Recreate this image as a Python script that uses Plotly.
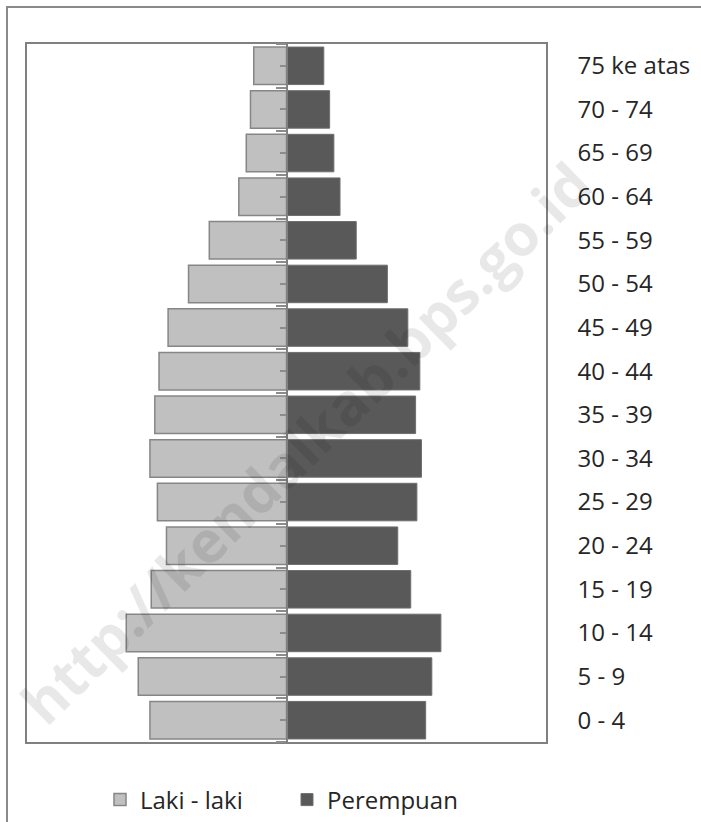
import plotly.graph_objects as go

# Age groups, bottom to top
age_groups = ["0 - 4", "5 - 9", "10 - 14", "15 - 19", "20 - 24", "25 - 29",
              "30 - 34", "35 - 39", "40 - 44", "45 - 49", "50 - 54", "55 - 59",
              "60 - 64", "65 - 69", "70 - 74", "75 ke atas"]
# Population (thousands)
laki_laki = [42.1, 45.7, 49.4, 41.7, 37.0, 39.8, 42.1, 40.6, 39.3, 36.5,
             30.2, 23.8, 14.7, 12.4, 11.1, 10.1]
perempuan = [42.9, 44.8, 47.6, 38.3, 34.3, 40.2, 41.6, 39.8, 41.1, 37.4,
             31.1, 21.5, 16.5, 14.6, 13.3, 11.5]
axis_max = 80

W, H = 701, 822
ML, MR, MT, MB = 27, 155, 44, 80
PW, PH = W - ML - MR, H - MT - MB

fig = go.Figure()
fig.add_trace(go.Bar(
    y=age_groups, x=[-v for v in laki_laki], orientation="h", name="Laki - laki",
    marker=dict(color="#c0c0c0", line=dict(color="#868686", width=1.5)),
))
fig.add_trace(go.Bar(
    y=age_groups, x=perempuan, orientation="h", name="Perempuan",
    marker=dict(color="#595959", line=dict(color="#6e6e6e", width=1)),
))

fig.update_layout(
    width=W, height=H,
    margin=dict(l=ML, r=MR, t=MT, b=MB, autoexpand=False),
    paper_bgcolor="white", plot_bgcolor="white",
    barmode="relative", bargap=0.14,
    font=dict(family="Open Sans", size=24, color="#262626"),
    xaxis=dict(range=[-axis_max, axis_max], showticklabels=False, showgrid=False,
               zeroline=False, ticks="", showline=True, linecolor="#808080",
               linewidth=1.5, mirror=True, fixedrange=True),
    yaxis=dict(type="category", categoryorder="array", categoryarray=age_groups,
               range=[-0.5, len(age_groups) - 0.5], side="right",
               showgrid=False, zeroline=False, ticks="outside", ticklen=25,
               tickcolor="rgba(0,0,0,0)", showline=True, linecolor="#808080",
               linewidth=1.5, mirror=True, tickfont=dict(size=24, color="#262626")),
    yaxis2=dict(overlaying="y", anchor="free", position=0.5, side="left",
                range=[-0.5, len(age_groups) - 0.5], tickmode="linear",
                tick0=-0.5, dtick=1, ticks="outside", ticklen=10, tickwidth=1.5,
                tickcolor="#8c8c8c", showticklabels=False, showgrid=False,
                zeroline=False, showline=True, linecolor="#808080", linewidth=1.5,
                minor=dict(tick0=0, dtick=1, ticks="outside", ticklen=6,
                           tickwidth=1.5, tickcolor="#8c8c8c")),
    legend=dict(orientation="h", x=(100 - ML) / PW, xanchor="left",
                y=(H - MB - 800) / PH, yanchor="middle",
                font=dict(size=24, color="#262626"), traceorder="normal",
                entrywidth=142, entrywidthmode="pixels"),
    shapes=[dict(type="rect", xref="paper", yref="paper",
                 x0=(7 - ML) / PW, x1=2, y0=-1, y1=1 + (MT - 7) / PH,
                 line=dict(color="#8a8a8a", width=2), fillcolor="rgba(0,0,0,0)",
                 layer="below")],
    annotations=[dict(text="http://kendalkab.bps.go.id", xref="paper", yref="paper",
                      x=(305 - ML) / PW, y=(H - MB - 442) / PH,
                      showarrow=False, textangle=-44.5,
                      font=dict(family="Open Sans", size=58, color="rgba(0,0,0,0.09)",
                                weight=700))],
)

# invisible trace so the center axis is drawn
fig.add_trace(go.Scatter(x=[0], y=[0], yaxis="y2", mode="markers",
                         marker=dict(opacity=0), showlegend=False, hoverinfo="skip"))

fig.write_html("out.html", config={"displayModeBar": False},
               post_script="document.body.style.margin='0';")
